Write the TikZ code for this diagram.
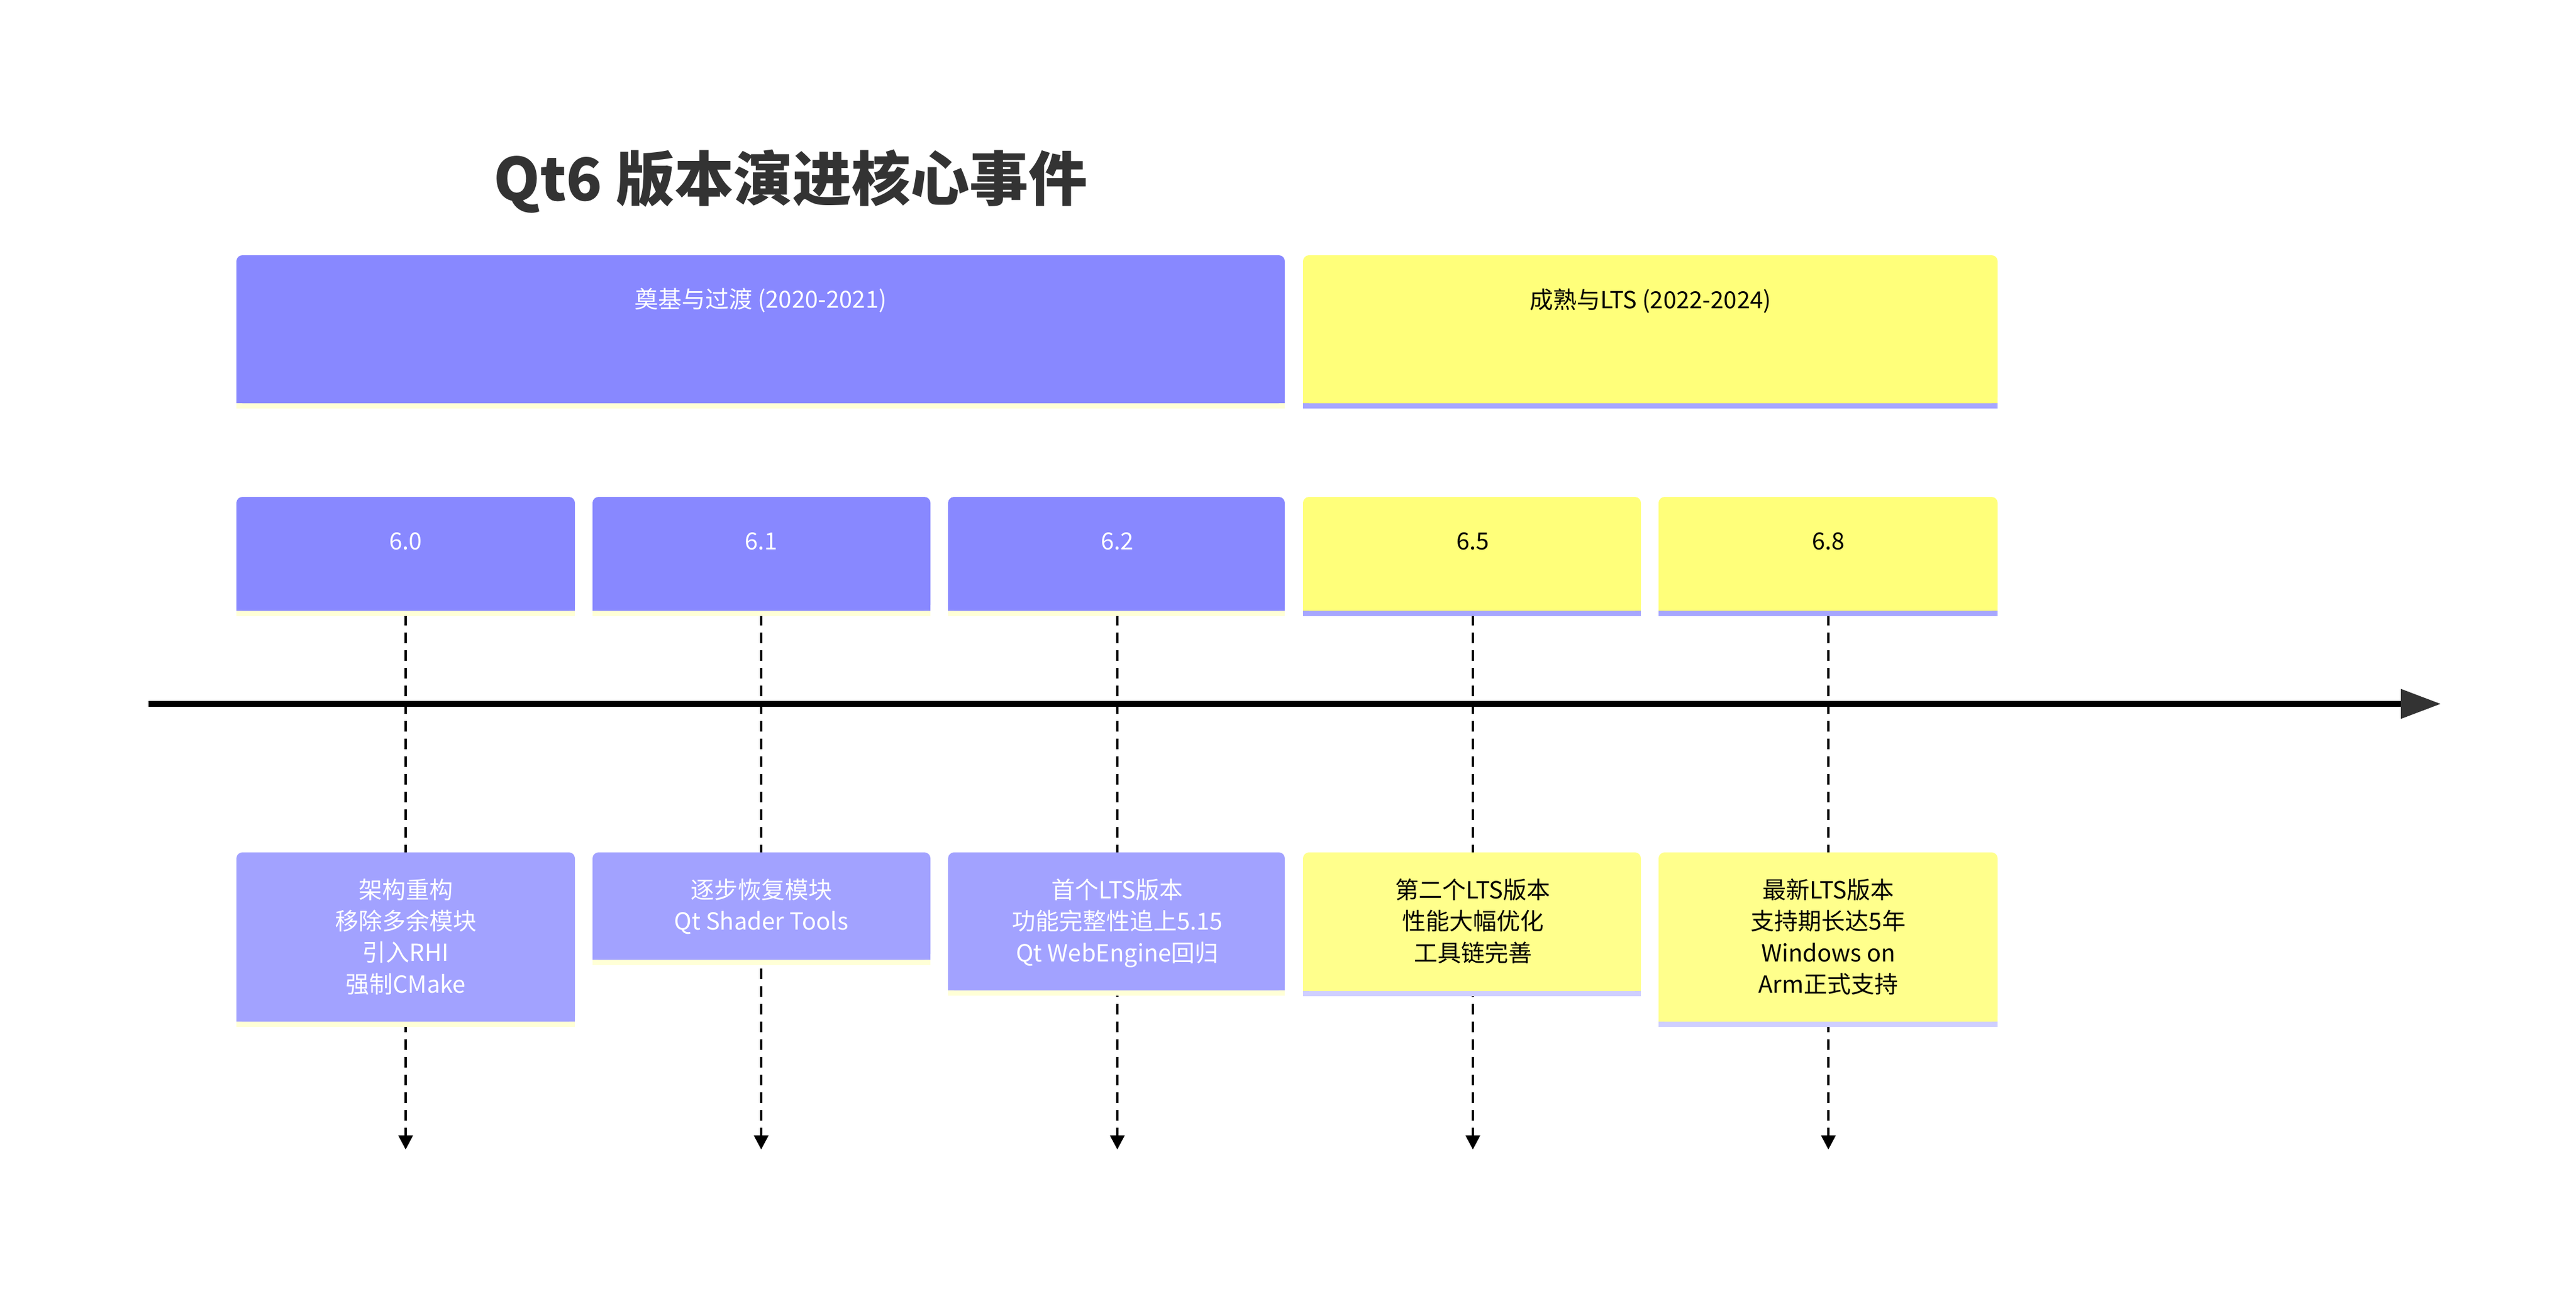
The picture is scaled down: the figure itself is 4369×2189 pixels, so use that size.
\documentclass[tikz,border=0pt]{standalone}
\usepackage{fontspec}
\setmainfont{Noto Sans CJK SC}
\usetikzlibrary{arrows.meta}
\definecolor{pur}{HTML}{8888FF}
\definecolor{purl}{HTML}{A2A2FF}
\definecolor{yel}{HTML}{FFFF7A}
\definecolor{yell}{HTML}{FFFF8C}
\definecolor{stY}{HTML}{FFFFD6}
\definecolor{stP}{HTML}{A6A6FF}
\definecolor{stPl}{HTML}{CFCFFF}
\definecolor{ttl}{HTML}{333333}
\newcommand\tbox[8]{%
 \fill[#7] ({#2},{#5}) rectangle ({#4},{#5+9});
 \fill[#6,rounded corners=2.5pt] ({#2},{#3}) rectangle ({#4},{#5});
 \fill[#6] ({#2},{#3+30}) rectangle ({#4},{#5});
 \coordinate (#1t) at ({(#2+#4)/2},{#3});
 \coordinate (#1b) at ({(#2+#4)/2},{#5+9});
 \node[lbl,text=#8,anchor=north] (#1) at ({(#2+#4)/2},{#3+45}) {\strut};}
\begin{document}
\begin{tikzpicture}[x=0.25pt,y=-0.25pt,
 lbl/.style={font=\fontsize{10pt}{13.3pt}\selectfont,align=center,inner sep=0pt},
 dline/.style={draw=black,line width=1.1pt,dash pattern=on 4.5pt off 3pt,-{Triangle[width=6pt,length=6pt]}}]
\useasboundingbox[fill=white] (0,0) rectangle (4369,2189);
\node[font=\fontsize{25pt}{30pt}\selectfont\bfseries,text=ttl] (title) at (1341,308) {Qt6 版本演进核心事件};
% sections
\tbox{s1}{401}{433}{2179}{684}{pur}{stY}{white}
\node[lbl,text=white] (s1l) at (1290,510) {奠基与过渡 (2020-2021)};
\tbox{s2}{2210}{433}{3388}{684}{yel}{stP}{black}
\node[lbl] (s2l) at (2799,510) {成熟与LTS (2022-2024)};
% dashed connectors (behind boxes)
\coordinate (e0) at (688,1950);
\coordinate (e1) at (1291,1950);
\coordinate (e2) at (1895,1950);
\coordinate (e5) at (2498,1950);
\coordinate (e8) at (3101,1950);
\coordinate (a0) at (688,1043);
\coordinate (a1) at (1291,1043);
\coordinate (a2) at (1895,1043);
\coordinate (a5) at (2498,1043);
\coordinate (a8) at (3101,1043);
\foreach \i in {0,1,2,5,8} \draw[dline] (a\i) -- (e\i);
% axis
\coordinate (ax1) at (252,1194);
\coordinate (ax2) at (4140,1194);
\draw[line width=2.4pt,-{Triangle[width=12pt,length=17pt,color=ttl]}] (ax1) -- (ax2);
% version boxes
\tbox{v0}{401}{843}{975}{1036}{pur}{stY}{white}
\tbox{v1}{1005}{843}{1578}{1036}{pur}{stY}{white}
\tbox{v2}{1608}{843}{2179}{1036}{pur}{stY}{white}
\tbox{v5}{2210}{843}{2783}{1036}{yel}{stP}{black}
\tbox{v8}{2813}{843}{3388}{1036}{yel}{stP}{black}
\node[lbl,text=white] at (688,918) {6.0};
\node[lbl,text=white] at (1291,918) {6.1};
\node[lbl,text=white] at (1895,918) {6.2};
\node[lbl] at (2498,918) {6.5};
\node[lbl] at (3101,918) {6.8};
% event boxes
\tbox{w0}{401}{1446}{975}{1733}{purl}{stY}{white}
\tbox{w1}{1005}{1446}{1578}{1628}{purl}{stY}{white}
\tbox{w2}{1608}{1446}{2179}{1680}{purl}{stY}{white}
\tbox{w5}{2210}{1446}{2783}{1681}{yell}{stPl}{black}
\tbox{w8}{2813}{1446}{3388}{1733}{yell}{stPl}{black}
\node[lbl,text=white,anchor=north] at (688,1490) {架构重构\\移除多余模块\\引入RHI\\强制CMake};
\node[lbl,text=white,anchor=north] at (1291,1490) {逐步恢复模块\\Qt Shader Tools};
\node[lbl,text=white,anchor=north] at (1895,1490) {首个LTS版本\\功能完整性追上5.15\\Qt WebEngine回归};
\node[lbl,anchor=north] at (2498,1490) {第二个LTS版本\\性能大幅优化\\工具链完善};
\node[lbl,anchor=north] at (3101,1490) {最新LTS版本\\支持期长达5年\\Windows on\\Arm正式支持};
\end{tikzpicture}
\end{document}
